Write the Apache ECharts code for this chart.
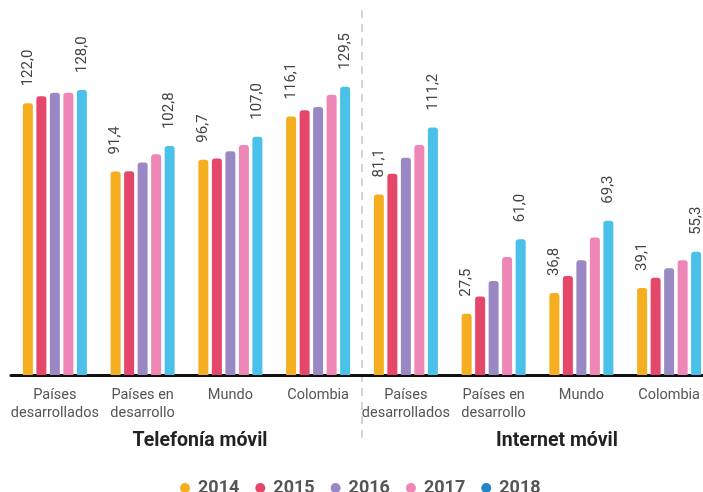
<!DOCTYPE html>
<html>
<head>
<meta charset="utf-8">
<script src="https://cdn.jsdelivr.net/npm/echarts@6/dist/echarts.min.js"></script>
<style>
  html, body { margin: 0; padding: 0; background: #fff; overflow: hidden; }
  /* the plot runs a little past the right edge of the window */
  #chart { width: 713px; height: 492px; }
</style>
</head>
<body>
<div id="chart"></div>
<script>
// Categories: four regions for mobile telephony, then the same four for mobile internet
const categories = [
  'Países\ndesarrollados', 'Países en\ndesarrollo', 'Mundo', 'Colombia',
  'Países\ndesarrollados', 'Países en\ndesarrollo', 'Mundo', 'Colombia'
];
const years = ['2014', '2015', '2016', '2017', '2018'];
const groupTitles = ['Telefonía móvil', 'Internet móvil'];

// Subscriptions per 100 inhabitants
const v2014 = [122.0, 91.4, 96.7, 116.1, 81.1, 27.5, 36.8, 39.1];
const v2015 = [125.2, 91.5, 97.2, 118.9, 90.4, 35.2, 44.5, 43.7];
const v2016 = [126.8, 95.4, 100.5, 120.4, 97.6, 42.2, 51.5, 47.9];
const v2017 = [126.8, 99.1, 103.3, 125.9, 103.3, 53.0, 61.7, 51.5];
const v2018 = [128.0, 102.8, 107.0, 129.5, 111.2, 61.0, 69.3, 55.3];

const seriesValues = [v2014, v2015, v2016, v2017, v2018];
const colors = ['#F5AE1F', '#E5476A', '#9A88C4', '#EE86B6', '#4BC0E8'];
const legendColors = ['#F5AE1F', '#E5476A', '#9A88C4', '#EE86B6', '#2385C8'];
const labelled = { '2014': true, '2018': true };

const chart = echarts.init(document.getElementById('chart'), null, { renderer: 'canvas' });

const fmt = v => v.toFixed(1).replace('.', ',');

const series = years.map((y, i) => ({
  name: y,
  type: 'bar',
  data: seriesValues[i],
  barWidth: 10,
  barGap: '35%',
  itemStyle: { color: colors[i], borderRadius: [3, 3, 0, 0] },
  label: {
    show: !!labelled[y],
    position: 'top',
    rotate: 90,
    align: 'left',
    verticalAlign: 'middle',
    distance: 17,
    fontFamily: 'Roboto',
    fontSize: 15,
    color: '#444',
    formatter: p => fmt(p.value)
  },
  emphasis: { disabled: true }
}));

chart.setOption({
  animation: false,
  color: colors,
  grid: { left: 11, right: 0, top: 41, bottom: 117 },
  legend: {
    left: 175,
    top: 474,
    icon: 'circle',
    itemWidth: 10,
    itemHeight: 10,
    itemGap: 16,
    textStyle: { fontFamily: 'Roboto', fontSize: 18, fontWeight: 'bold', color: '#555', padding: [0, 0, 0, 3] },
    data: years.map((y, i) => ({ name: y, itemStyle: { color: legendColors[i] } }))
  },
  xAxis: {
    type: 'category',
    data: categories.map((c, i) => String(i)),
    axisLine: { lineStyle: { color: '#111', width: 3 } },
    axisTick: { show: false },
    axisLabel: {
      interval: 0,
      margin: 11,
      fontFamily: 'Roboto',
      fontSize: 14.5,
      lineHeight: 18,
      color: '#555',
      formatter: (v, i) => categories[i]
    }
  },
  yAxis: {
    type: 'value',
    min: 0,
    max: 150,
    show: false,
    splitLine: { show: false }
  },
  graphic: [
    {
      type: 'line',
      shape: { x1: 362, y1: 10, x2: 362, y2: 443 },
      style: { stroke: '#aaa', lineWidth: 1, lineDash: [8, 6] },
      z: -1
    },
    {
      type: 'text',
      style: {
        text: groupTitles[0], x: 200, y: 441,
        textAlign: 'center', textVerticalAlign: 'middle',
        font: 'bold 19.5px Roboto', fill: '#222'
      }
    },
    {
      type: 'text',
      style: {
        text: groupTitles[1], x: 557, y: 441,
        textAlign: 'center', textVerticalAlign: 'middle',
        font: 'bold 19.5px Roboto', fill: '#222'
      }
    }
  ],
  series: series
});
</script>
</body>
</html>
